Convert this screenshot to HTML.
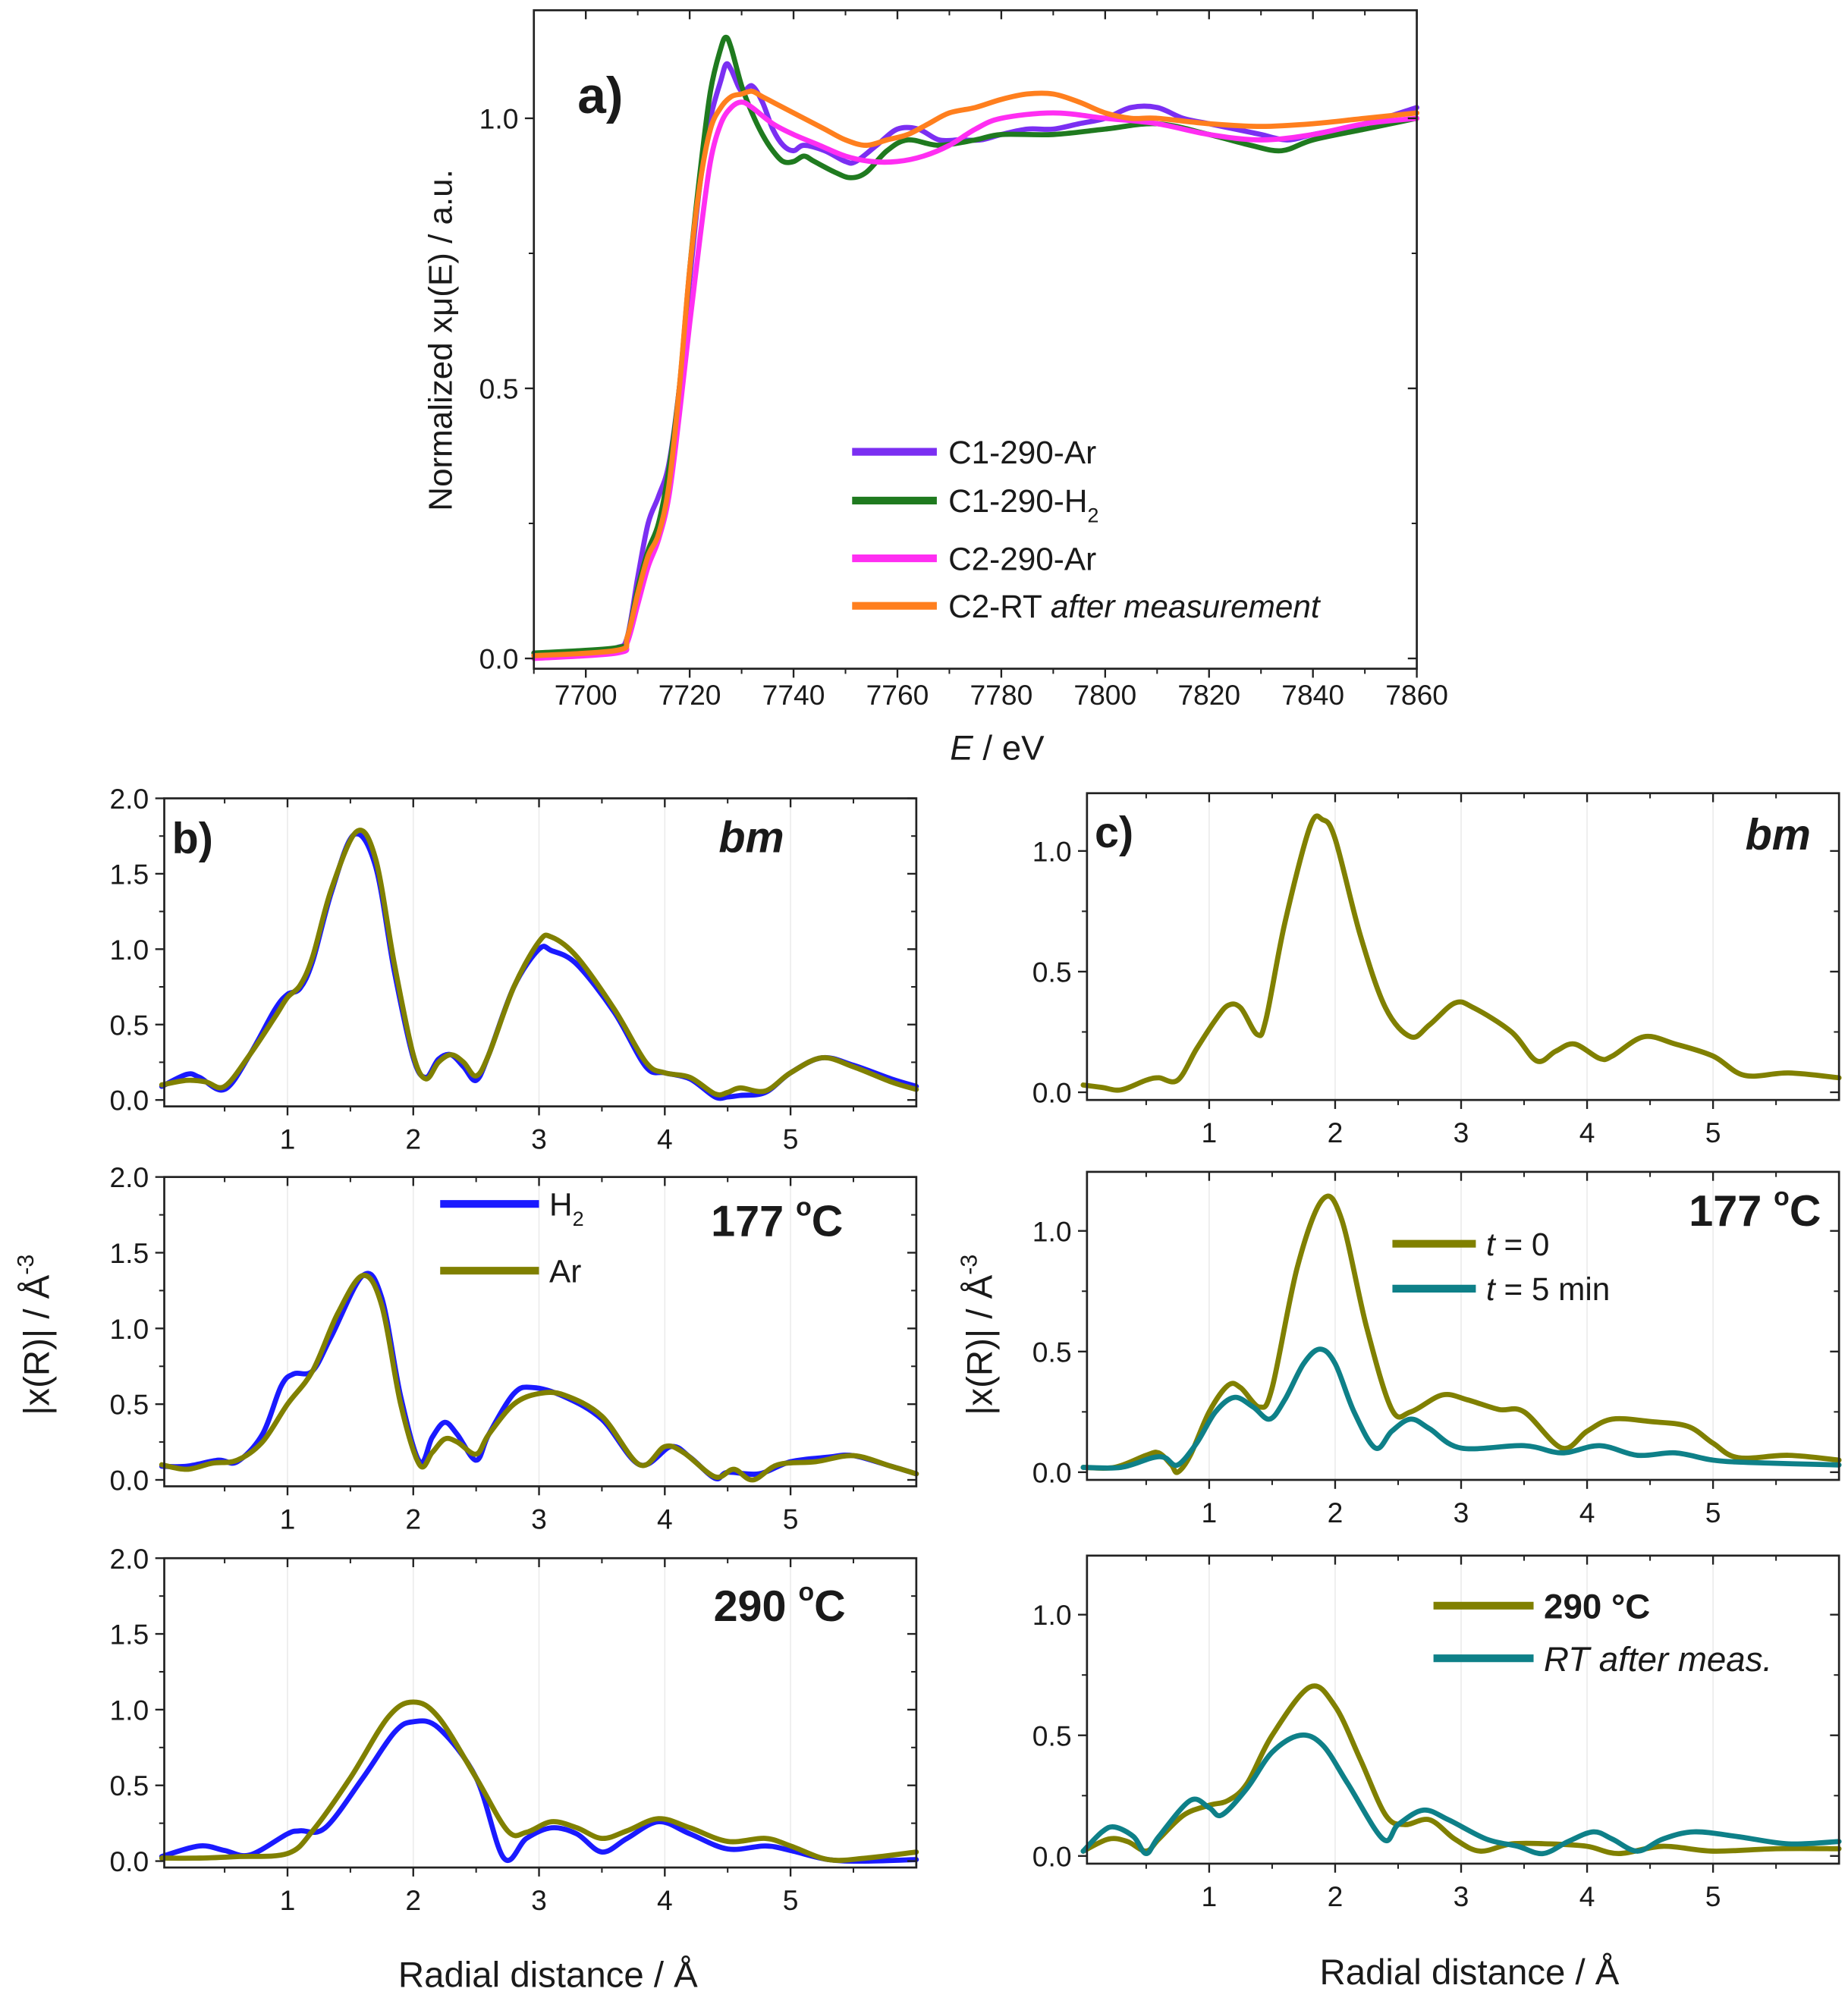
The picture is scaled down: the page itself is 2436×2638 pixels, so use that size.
<!DOCTYPE html>
<html><head><meta charset="utf-8">
<style>
html,body{margin:0;padding:0;background:#fff;}
svg{display:block;}
text{font-family:"Liberation Sans",sans-serif;fill:#1a1a1a;}
</style></head>
<body>
<svg id="fig" xmlns="http://www.w3.org/2000/svg" width="2436" height="2638" viewBox="0 0 1440 1559" preserveAspectRatio="none">
<rect x="0" y="0" width="1440" height="1559" fill="#fff"/>
<g id="layer"></g>
<g id="annot" font-family="Liberation Sans, sans-serif">
  <text x="450" y="88" font-size="40" font-weight="bold">a)</text>
  <text transform="translate(352,265) rotate(-90)" font-size="26" text-anchor="middle">Normalized xμ(E) / a.u.</text>
  <text x="777" y="592" font-size="27" text-anchor="middle"><tspan font-style="italic">E</tspan> / eV</text>
  <g>
    <line x1="664" x2="730" y1="352" y2="352" stroke="#7b2ff2" stroke-width="6"/>
    <text x="739" y="361" font-size="25">C1-290-Ar</text>
    <line x1="664" x2="730" y1="390" y2="390" stroke="#1f7a1f" stroke-width="6"/>
    <text x="739" y="399" font-size="25">C1-290-H<tspan font-size="16" dy="8">2</tspan></text>
    <line x1="664" x2="730" y1="435" y2="435" stroke="#ff2ef2" stroke-width="6"/>
    <text x="739" y="444" font-size="25">C2-290-Ar</text>
    <line x1="664" x2="730" y1="472" y2="472" stroke="#ff7f1e" stroke-width="6"/>
    <text x="739" y="481" font-size="25">C2-RT <tspan font-style="italic">after measurement</tspan></text>
  </g>
  <text x="134" y="665" font-size="34" font-weight="bold">b)</text>
  <text x="560" y="664" font-size="34" font-weight="bold" font-style="italic">bm</text>
  <text x="554" y="963" font-size="34" font-weight="bold">177 <tspan font-size="20" dy="-16">o</tspan><tspan dy="16">C</tspan></text>
  <text x="556" y="1263" font-size="34" font-weight="bold">290 <tspan font-size="20" dy="-16">o</tspan><tspan dy="16">C</tspan></text>
  <g>
    <line x1="343" x2="420" y1="938" y2="938" stroke="#1a1aff" stroke-width="6"/>
    <text x="428" y="947" font-size="25">H<tspan font-size="16" dy="8">2</tspan></text>
    <line x1="343" x2="420" y1="990" y2="990" stroke="#808000" stroke-width="6"/>
    <text x="428" y="999" font-size="25">Ar</text>
  </g>
  <text transform="translate(38,1040) rotate(-90)" font-size="28" text-anchor="middle">|x(R)| / Å<tspan font-size="18" dy="-12">-3</tspan></text>
  <text x="427" y="1548" font-size="28" text-anchor="middle">Radial distance / Å</text>
  <text x="853" y="660" font-size="34" font-weight="bold">c)</text>
  <text x="1360" y="662" font-size="34" font-weight="bold" font-style="italic">bm</text>
  <text x="1316" y="955" font-size="34" font-weight="bold">177 <tspan font-size="20" dy="-16">o</tspan><tspan dy="16">C</tspan></text>
  <g>
    <line x1="1085" x2="1150" y1="969" y2="969" stroke="#808000" stroke-width="6"/>
    <text x="1158" y="978" font-size="25"><tspan font-style="italic">t</tspan> = 0</text>
    <line x1="1085" x2="1150" y1="1004" y2="1004" stroke="#0e8088" stroke-width="6"/>
    <text x="1158" y="1013" font-size="25"><tspan font-style="italic">t</tspan> = 5 min</text>
  </g>
  <g>
    <line x1="1117" x2="1195" y1="1251" y2="1251" stroke="#808000" stroke-width="6"/>
    <text x="1203" y="1261" font-size="27" font-weight="bold">290 °C</text>
    <line x1="1117" x2="1195" y1="1292" y2="1292" stroke="#0e8088" stroke-width="6"/>
    <text x="1203" y="1302" font-size="27" font-style="italic">RT after meas.</text>
  </g>
  <text transform="translate(773,1040) rotate(-90)" font-size="28" text-anchor="middle">|x(R)| / Å<tspan font-size="18" dy="-12">-3</tspan></text>
  <text x="1145" y="1546" font-size="28" text-anchor="middle">Radial distance / Å</text>
</g>
</svg>
<script>
const aC1Ar = [[7690,0.01],[7700,0.01],[7706,0.02],[7708,0.04],[7710,0.15],[7712,0.25],[7714,0.3],[7716,0.36],[7718,0.5],[7720,0.7],[7722,0.88],[7724,1.0],[7726,1.07],[7727,1.1],[7728,1.09],[7730,1.05],[7732,1.06],[7734,1.03],[7736,0.98],[7738,0.95],[7740,0.94],[7742,0.95],[7746,0.94],[7750,0.92],[7752,0.92],[7756,0.95],[7760,0.98],[7764,0.98],[7768,0.96],[7772,0.96],[7776,0.96],[7780,0.97],[7785,0.98],[7790,0.98],[7795,0.99],[7800,1.0],[7805,1.02],[7810,1.02],[7815,1.0],[7820,0.99],[7825,0.98],[7830,0.97],[7835,0.96],[7840,0.97],[7850,0.99],[7860,1.02]];
const aC1H2 = [[7690,0.01],[7706,0.02],[7708,0.04],[7710,0.13],[7712,0.2],[7714,0.25],[7716,0.35],[7718,0.5],[7720,0.72],[7722,0.9],[7724,1.05],[7726,1.13],[7727,1.15],[7728,1.13],[7730,1.06],[7732,1.01],[7734,0.97],[7736,0.94],[7738,0.92],[7740,0.92],[7742,0.93],[7744,0.92],[7748,0.9],[7751,0.89],[7754,0.9],[7758,0.94],[7762,0.96],[7768,0.95],[7775,0.96],[7780,0.97],[7790,0.97],[7800,0.98],[7810,0.99],[7820,0.97],[7828,0.95],[7834,0.94],[7840,0.96],[7850,0.98],[7860,1.0]];
const aC2Ar = [[7690,0.0],[7706,0.01],[7708,0.03],[7710,0.1],[7712,0.17],[7714,0.22],[7716,0.3],[7718,0.45],[7720,0.62],[7722,0.78],[7724,0.92],[7726,0.99],[7728,1.02],[7730,1.03],[7732,1.02],[7736,0.99],[7740,0.97],[7745,0.95],[7750,0.93],[7755,0.92],[7760,0.92],[7765,0.93],[7770,0.95],[7775,0.98],[7780,1.0],[7790,1.01],[7800,1.0],[7810,0.99],[7820,0.97],[7830,0.96],[7840,0.97],[7850,0.99],[7860,1.0]];
const aC2RT = [[7690,0.005],[7706,0.015],[7708,0.04],[7710,0.12],[7712,0.19],[7714,0.23],[7716,0.32],[7718,0.5],[7720,0.72],[7722,0.88],[7724,0.98],[7726,1.02],[7728,1.04],[7730,1.045],[7732,1.05],[7734,1.04],[7738,1.02],[7742,1.0],[7746,0.98],[7750,0.96],[7754,0.95],[7758,0.96],[7762,0.97],[7766,0.99],[7770,1.01],[7775,1.02],[7780,1.035],[7785,1.045],[7790,1.045],[7795,1.03],[7800,1.01],[7805,1.0],[7810,1.0],[7820,0.99],[7830,0.985],[7840,0.99],[7850,1.0],[7860,1.01]];
const aXTicks = [7700,7720,7740,7760,7780,7800,7820,7840,7860];
const aYTicks = ["0.0","0.5","1.0"];

const bBmAr = [[0,0.1],[0.2,0.13],[0.35,0.12],[0.5,0.09],[0.7,0.3],[0.9,0.55],[1.0,0.68],[1.1,0.76],[1.2,0.95],[1.35,1.4],[1.55,1.78],[1.7,1.6],[1.85,0.9],[2.0,0.3],[2.1,0.14],[2.2,0.25],[2.3,0.3],[2.4,0.25],[2.5,0.16],[2.6,0.3],[2.8,0.75],[3.0,1.05],[3.1,1.08],[3.3,0.95],[3.6,0.6],[3.85,0.25],[4.0,0.18],[4.2,0.15],[4.4,0.04],[4.5,0.05],[4.6,0.08],[4.8,0.06],[5.0,0.18],[5.25,0.28],[5.5,0.22],[5.8,0.12],[6.0,0.07]];
const bBmH2 = [[0,0.09],[0.2,0.17],[0.3,0.15],[0.5,0.07],[0.7,0.3],[0.9,0.6],[1.0,0.7],[1.1,0.74],[1.2,0.92],[1.35,1.38],[1.53,1.76],[1.7,1.55],[1.85,0.85],[2.0,0.28],[2.1,0.15],[2.2,0.27],[2.3,0.3],[2.4,0.22],[2.5,0.13],[2.6,0.3],[2.8,0.75],[3.0,1.0],[3.1,0.99],[3.3,0.9],[3.6,0.58],[3.85,0.22],[4.0,0.18],[4.2,0.14],[4.4,0.02],[4.5,0.02],[4.6,0.03],[4.8,0.05],[5.0,0.18],[5.25,0.28],[5.5,0.23],[5.8,0.14],[6.0,0.09]];
const b177Ar = [[0,0.1],[0.2,0.07],[0.4,0.11],[0.6,0.13],[0.8,0.25],[1.0,0.5],[1.2,0.72],[1.4,1.1],[1.6,1.35],[1.75,1.15],[1.9,0.5],[2.05,0.1],[2.15,0.18],[2.25,0.27],[2.35,0.25],[2.5,0.17],[2.6,0.3],[2.8,0.5],[3.0,0.57],[3.2,0.56],[3.5,0.42],[3.8,0.1],[4.0,0.22],[4.15,0.18],[4.4,0.02],[4.55,0.07],[4.7,0.0],[4.9,0.1],[5.2,0.12],[5.5,0.16],[5.8,0.09],[6.0,0.04]];
const b177H2 = [[0,0.09],[0.2,0.09],[0.45,0.13],[0.6,0.12],[0.8,0.3],[0.95,0.62],[1.05,0.7],[1.2,0.72],[1.35,0.95],[1.6,1.35],[1.75,1.2],[1.9,0.55],[2.05,0.12],[2.15,0.28],[2.25,0.38],[2.35,0.3],[2.5,0.13],[2.6,0.3],[2.8,0.57],[2.95,0.61],[3.2,0.55],[3.5,0.4],[3.8,0.1],[4.05,0.22],[4.2,0.15],[4.4,0.01],[4.5,0.05],[4.75,0.04],[5.0,0.12],[5.3,0.15],[5.5,0.16],[5.8,0.09],[6.0,0.04]];
const b290Ar = [[0,0.02],[0.3,0.02],[0.6,0.03],[1.0,0.05],[1.2,0.2],[1.5,0.55],[1.8,0.95],[2.0,1.05],[2.2,0.95],[2.5,0.55],[2.75,0.2],[2.9,0.19],[3.1,0.26],[3.3,0.22],[3.5,0.15],[3.7,0.2],[3.95,0.28],[4.2,0.22],[4.5,0.13],[4.8,0.15],[5.0,0.1],[5.3,0.01],[5.6,0.02],[6.0,0.06]];
const b290H2 = [[0,0.03],[0.3,0.1],[0.5,0.07],[0.7,0.04],[1.0,0.18],[1.1,0.2],[1.3,0.22],[1.6,0.55],[1.85,0.85],[2.0,0.92],[2.2,0.88],[2.5,0.55],[2.72,0.02],[2.9,0.15],[3.1,0.22],[3.3,0.18],[3.5,0.06],[3.7,0.15],[3.95,0.26],[4.2,0.18],[4.5,0.08],[4.8,0.1],[5.0,0.07],[5.3,0.01],[5.6,0.0],[6.0,0.01]];
const bYTicks = ["0.0","0.5","1.0","1.5","2.0"];
const rXTicks = [1,2,3,4,5];

const cBm = [[0,0.03],[0.15,0.02],[0.3,0.01],[0.5,0.05],[0.6,0.06],[0.75,0.05],[0.9,0.18],[1.05,0.3],[1.15,0.36],[1.25,0.35],[1.38,0.24],[1.45,0.3],[1.6,0.7],[1.8,1.1],[1.9,1.13],[2.0,1.05],[2.2,0.65],[2.4,0.35],[2.6,0.23],[2.75,0.28],[2.95,0.37],[3.1,0.35],[3.4,0.25],[3.6,0.13],[3.75,0.17],[3.9,0.2],[4.1,0.14],[4.2,0.15],[4.45,0.23],[4.7,0.2],[5.0,0.15],[5.25,0.07],[5.6,0.08],[6.0,0.06]];
const c177t0 = [[0,0.02],[0.25,0.02],[0.5,0.07],[0.6,0.08],[0.7,0.03],[0.75,0.0],[0.85,0.07],[1.0,0.25],[1.15,0.36],[1.25,0.35],[1.4,0.27],[1.5,0.35],[1.7,0.85],[1.9,1.13],[2.05,1.05],[2.25,0.6],[2.45,0.26],[2.6,0.25],[2.85,0.32],[3.05,0.3],[3.3,0.26],[3.5,0.25],[3.8,0.1],[4.0,0.17],[4.2,0.22],[4.5,0.21],[4.8,0.19],[5.0,0.12],[5.2,0.06],[5.6,0.07],[6.0,0.05]];
const c177t5 = [[0,0.02],[0.3,0.02],[0.55,0.06],[0.65,0.06],[0.75,0.03],[0.9,0.12],[1.05,0.25],[1.2,0.31],[1.35,0.27],[1.48,0.22],[1.6,0.3],[1.75,0.45],[1.88,0.51],[2.0,0.45],[2.15,0.25],[2.32,0.1],[2.45,0.17],[2.6,0.22],[2.75,0.18],[3.0,0.1],[3.5,0.11],[3.8,0.08],[4.1,0.11],[4.4,0.07],[4.7,0.08],[5.0,0.05],[5.3,0.04],[6.0,0.03]];
const c290 = [[0,0.02],[0.2,0.07],[0.35,0.06],[0.5,0.02],[0.6,0.07],[0.8,0.17],[1.0,0.21],[1.15,0.23],[1.3,0.3],[1.5,0.5],[1.8,0.7],[2.0,0.62],[2.2,0.4],[2.4,0.17],[2.55,0.13],[2.75,0.15],[2.95,0.07],[3.15,0.02],[3.4,0.05],[3.7,0.05],[4.0,0.04],[4.25,0.01],[4.6,0.04],[5.0,0.02],[5.5,0.03],[6.0,0.03]];
const cRT = [[0,0.02],[0.15,0.1],[0.25,0.12],[0.4,0.08],[0.5,0.01],[0.6,0.08],[0.85,0.23],[1.0,0.2],[1.1,0.17],[1.3,0.28],[1.5,0.43],[1.72,0.5],[1.9,0.46],[2.1,0.3],[2.38,0.07],[2.5,0.13],[2.7,0.19],[2.9,0.15],[3.2,0.07],[3.45,0.04],[3.65,0.01],[3.85,0.06],[4.05,0.1],[4.2,0.07],[4.4,0.02],[4.6,0.07],[4.85,0.1],[5.2,0.08],[5.6,0.05],[6.0,0.06]];
const cYTicks = ["0.0","0.5","1.0"];

const NS = "http://www.w3.org/2000/svg";
const layer = document.getElementById('layer');
function mk(tag, attrs, parent){
  const e = document.createElementNS(NS, tag);
  for (const k in attrs) e.setAttribute(k, attrs[k]);
  (parent||layer).appendChild(e);
  return e;
}
function smoothPath(pts){
  let d = "M"+pts[0][0].toFixed(2)+","+pts[0][1].toFixed(2);
  for (let i=0;i<pts.length-1;i++){
    const p0=pts[Math.max(i-1,0)], p1=pts[i], p2=pts[i+1], p3=pts[Math.min(i+2,pts.length-1)];
    const c1=[p1[0]+(p2[0]-p0[0])/6, p1[1]+(p2[1]-p0[1])/6];
    const c2=[p2[0]-(p3[0]-p1[0])/6, p2[1]-(p3[1]-p1[1])/6];
    d += " C"+c1[0].toFixed(2)+","+c1[1].toFixed(2)+" "+c2[0].toFixed(2)+","+c2[1].toFixed(2)+" "+p2[0].toFixed(2)+","+p2[1].toFixed(2);
  }
  return d;
}
function makePanel(p){
  const sx = v => p.x0 + (v - p.xmin)/(p.xmax - p.xmin)*(p.x1 - p.x0);
  const sy = v => p.y0 - (v - p.ymin)/(p.ymax - p.ymin)*(p.y0 - p.y1);
  const g = mk('g', {});
  
  
  if (p.grid){
    p.xt.forEach(v=>{ const l = mk('line',{x1:sx(v),x2:sx(v),y1:p.y1,y2:p.y0,stroke:'#ececec','stroke-width':1},g);
      
       });
  }
  p.series.forEach(s=>{
    const pts = s.data.map(d=>[sx(d[0]), sy(d[1])]);
    const path = mk('path',{d:smoothPath(pts),fill:'none',stroke:s.color,'stroke-width':s.w||4,'stroke-linejoin':'round','stroke-linecap':'round'},g);
    
    
  });
  const fr = mk('rect',{x:p.x0,y:p.y1,width:p.x1-p.x0,height:p.y0-p.y1,fill:'none',stroke:'#222','stroke-width':1.6},g);
  
  
  const tl = 7, tm = 4;
  p.xt.forEach(v=>{
    const x=sx(v);
    mk('line',{x1:x,x2:x,y1:p.y0,y2:p.y0+tl,stroke:'#222','stroke-width':1.4},g);
    mk('line',{x1:x,x2:x,y1:p.y1,y2:p.y1+tl,stroke:'#222','stroke-width':1.4},g);
    const t = mk('text',{x:x,y:p.y0+p.xlabOff,'font-size':p.fs,'text-anchor':'middle'},g);
    t.textContent = String(v);
    
    
  });
  p.xm.forEach(v=>{
    const x=sx(v);
    mk('line',{x1:x,x2:x,y1:p.y0,y2:p.y0+tm,stroke:'#222','stroke-width':1.2},g);
    mk('line',{x1:x,x2:x,y1:p.y1,y2:p.y1+tm,stroke:'#222','stroke-width':1.2},g);
  });
  p.yt.forEach(lbl=>{
    const v=parseFloat(lbl), y=sy(v);
    mk('line',{x1:p.x0-tl,x2:p.x0,y1:y,y2:y,stroke:'#222','stroke-width':1.4},g);
    mk('line',{x1:p.x1-tl,x2:p.x1,y1:y,y2:y,stroke:'#222','stroke-width':1.4},g);
    const t = mk('text',{x:p.x0-12,y:y+8,'font-size':p.fs,'text-anchor':'end'},g);
    t.textContent = lbl;
    
    
  });
  p.ym.forEach(v=>{
    const y=sy(v);
    mk('line',{x1:p.x0-tm,x2:p.x0,y1:y,y2:y,stroke:'#222','stroke-width':1.2},g);
    mk('line',{x1:p.x1-tm,x2:p.x1,y1:y,y2:y,stroke:'#222','stroke-width':1.2},g);
  });
  return g;
}
const aMinorX=[7690,7710,7730,7750,7770,7790,7810,7830,7850];
const aMinorY=[0.25,0.75];
makePanel({name:'panel-a',x0:416,x1:1104,y0:521,y1:8,xmin:7690,xmax:7860,ymin:-0.019,ymax:1.2,
  xt:aXTicks,xm:aMinorX,yt:aYTicks,ym:aMinorY,fs:22,xlabOff:28,grid:false,
  series:[{name:'c1-290-ar-line',data:aC1Ar,color:'#7b2ff2'},{name:'c1-290-h2-line',data:aC1H2,color:'#1f7a1f'},
          {name:'c2-290-ar-line',data:aC2Ar,color:'#ff2ef2'},{name:'c2-rt-line',data:aC2RT,color:'#ff7f1e'}]});
const rMinor=[0.5,1.5,2.5,3.5,4.5,5.5];
const bMinorY=[0.25,0.75,1.25,1.75];
const cMinorY=[0.25,0.75];
const bPanels=[[622,862,bBmH2,bBmAr,'panel-b-bm'],[917,1158,b177H2,b177Ar,'panel-b-177'],[1214,1455,b290H2,b290Ar,'panel-b-290']];
bPanels.forEach(q=>{
  const y0=q[1], zero=q[1]-5, two=q[0];
  const per=(zero-two)/2;
  makePanel({name:q[4],x0:128,x1:714,y0:y0,y1:q[0],xmin:0.02,xmax:6.0,ymin:-(y0-zero)/per,ymax:2.0,
    xt:rXTicks,xm:rMinor,yt:bYTicks,ym:bMinorY,fs:22,xlabOff:33,grid:true,
    series:[{name:'h2-line',data:q[2],color:'#1a1aff'},{name:'ar-line',data:q[3],color:'#808000'}]});
});
const cPanels=[[618,857,851,[{name:'bm-line',data:cBm,color:'#808000'}],'panel-c-bm'],
  [913,1153,1147,[{name:'t0-line',data:c177t0,color:'#808000'},{name:'t5-line',data:c177t5,color:'#0e8088'}],'panel-c-177'],
  [1212,1452,1446,[{name:'290c-line',data:c290,color:'#808000'},{name:'rt-line',data:cRT,color:'#0e8088'}],'panel-c-290']];
cPanels.forEach(q=>{
  const per=188;
  makePanel({name:q[4],x0:847,x1:1433,y0:q[1],y1:q[0],xmin:0.03,xmax:6.0,ymin:-(q[1]-q[2])/per,ymax:(q[2]-q[0])/per,
    xt:rXTicks,xm:rMinor,yt:cYTicks,ym:cMinorY,fs:22,xlabOff:33,grid:true,series:q[3]});
});
</script>
</body></html>
